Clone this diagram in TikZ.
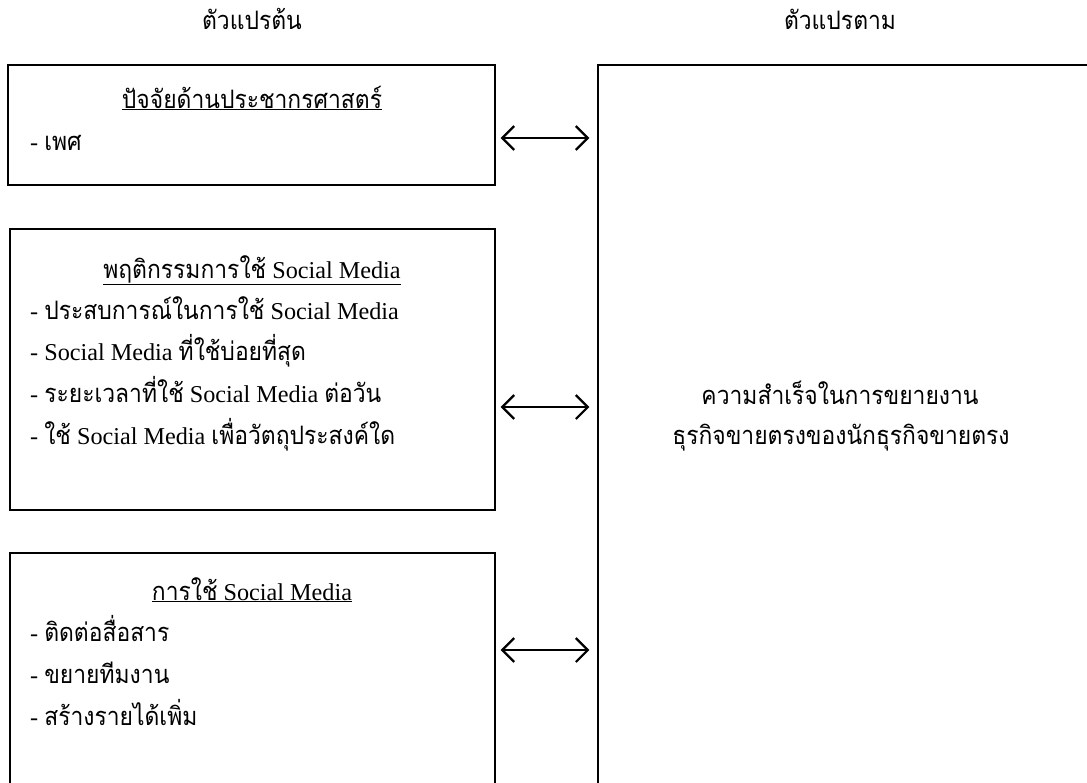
\documentclass[tikz,border=0pt]{standalone}
\usepackage{fontspec}
\setmainfont{Liberation Serif}
\newfontfamily\thai[Script=Thai,Scale=1.05,FakeStretch=0.9]{Loma}
\usetikzlibrary{positioning,arrows.meta}
\tikzset{
  varbox/.style={draw, line width=1.3pt, inner sep=0pt},
  title/.style={anchor=base, inner sep=0pt},
  item/.style={anchor=base west, inner sep=0pt},
  link/.style={{Straight Barb[length=12pt,width=24pt]}-{Straight Barb[length=12pt,width=24pt]},
    line width=2.2pt, shorten <=5pt, shorten >=8pt},
}

\begin{document}
\begin{tikzpicture}[x=1pt, y=-1pt, font=\fontsize{24.2}{29}\selectfont]
\useasboundingbox (0,0) rectangle (1087,782);
\clip (0,0) rectangle (1087,782);

% headings
\node[title] (hin)  at (252,29) {\thai ตัวแปรต้น};
\node[title] (hout) at (840,29) {\thai ตัวแปรตาม};

% boxes
\node[varbox, minimum width=487, minimum height=120] (demo)  at (251.5,125) {};
\node[varbox, minimum width=485, minimum height=281] (behav) at (252.5,369.5) {};
\node[varbox, minimum width=485, minimum height=260] (use)   at (252.5,683) {};
\node[varbox, minimum width=520, minimum height=760] (dv)    at (858,445) {};

% independent variables
\node[title] (demoT) at (252,108) {\underline{\thai ปัจจัยด้านประชากรศาสตร์}};
\node[item]  (d1)    at (30,150)  {- {\thai เพศ}};

\node[title] (behavT) at (252,278) {\underline{{\thai พฤติกรรมการใช้} Social Media}};
\node[item]  (b1) at (30,319) {- {\thai ประสบการณ์ในการใช้} Social Media};
\node[item]  (b2) at (30,360) {- Social Media {\thai ที่ใช้บ่อยที่สุด}};
\node[item]  (b3) at (30,402) {- {\thai ระยะเวลาที่ใช้} Social Media {\thai ต่อวัน}};
\node[item]  (b4) at (30,444) {- {\thai ใช้} Social Media {\thai เพื่อวัตถุประสงค์ใด}};

\node[title] (useT) at (252,600) {\underline{{\thai การใช้} Social Media}};
\node[item]  (u1) at (30,641) {- {\thai ติดต่อสื่อสาร}};
\node[item]  (u2) at (30,683) {- {\thai ขยายทีมงาน}};
\node[item]  (u3) at (30,725) {- {\thai สร้างรายได้เพิ่ม}};

% dependent variable
\node[title] (dv1) at (840,404) {\thai ความสำเร็จในการขยายงาน};
\node[title] (dv2) at (841,444) {\thai ธุรกิจขายตรงของนักธุรกิจขายตรง};

% links
\draw[link] ([yshift=-13pt]demo.east)  -- ([yshift=-13pt]demo.east -| dv.west);
\draw[link] ([yshift=-37.5pt]behav.east) -- ([yshift=-37.5pt]behav.east -| dv.west);
\draw[link] ([yshift=33pt]use.east)    -- ([yshift=33pt]use.east -| dv.west);
\end{tikzpicture}
\end{document}
